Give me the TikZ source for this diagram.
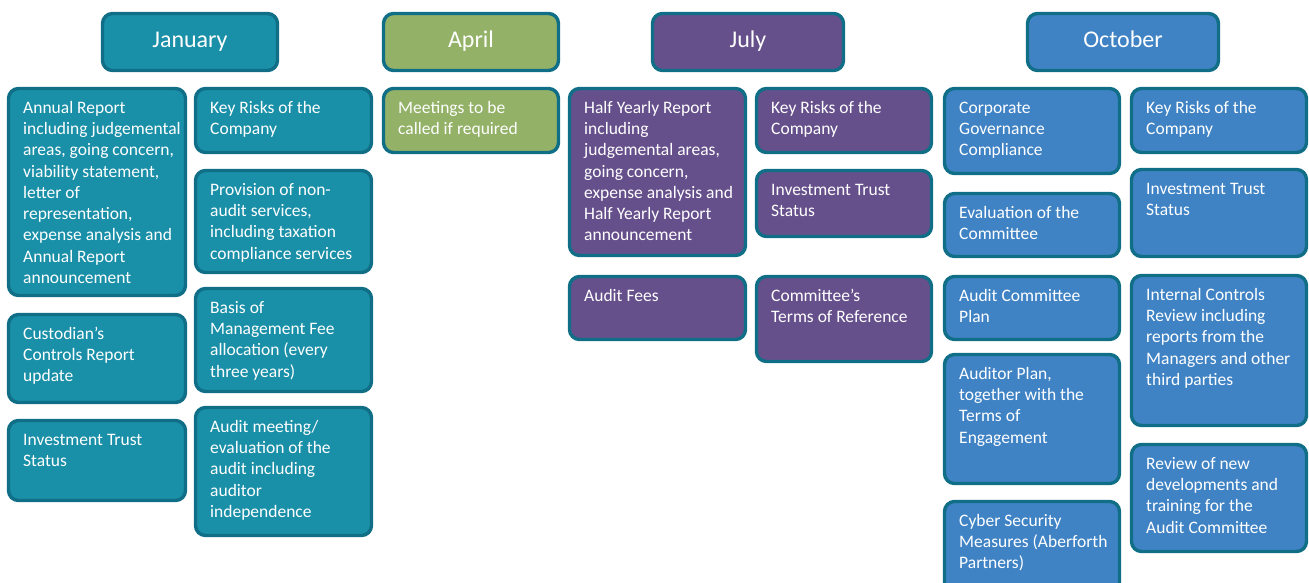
\documentclass[tikz,border=0pt]{standalone}
\usepackage{fontspec}
\setmainfont{Carlito}
\definecolor{bordc}{RGB}{16,110,135}
\definecolor{janc}{RGB}{26,143,168}
\definecolor{aprc}{RGB}{147,177,103}
\definecolor{julc}{RGB}{102,80,140}
\definecolor{octc}{RGB}{63,131,197}
\tikzset{
  boxst/.style={draw=bordc, line width=3.4pt, rounded corners=10pt, inner sep=0pt, outer sep=0pt},
  txtst/.style={text=white, inner sep=0pt, align=left, font=\fontsize{17.5}{21.3}\selectfont},
  headst/.style={text=white, inner sep=0pt, text height=15.5pt, text depth=4.5pt, font=\fontsize{24}{28}\selectfont}
}
\newcommand\calbox[7]{%
  \node[boxst, fill=#2, minimum width={(#5-#3-3)*1pt}, minimum height={(#6-#4-3)*1pt}, anchor=north west] (#1) at (#3+1.5,#4+1.5) {};
  \node[txtst, anchor=north west] (#1-t) at ([xshift=14.5pt,yshift=-9.5pt]#1.north west) {\strut #7};
}
\newcommand\calhead[7]{%
  \node[boxst, fill=#2, minimum width={(#5-#3-3)*1pt}, minimum height={(#6-#4-3)*1pt}, anchor=north west] (#1) at (#3+1.5,#4+1.5) {};
  \node[headst] (#1-t) at (#1.center) {#7};
}
\begin{document}
\begin{tikzpicture}[x=1pt,y=-1pt]
\useasboundingbox (0,0) rectangle (1309,582);
\clip (0,0) rectangle (1309,582);
% headers
\calhead{jan}{janc}{101}{12}{279}{72}{January}
\calhead{apr}{aprc}{382}{12}{560}{72}{April}
\calhead{jul}{julc}{651}{12}{845}{72}{July}
\calhead{oct}{octc}{1026}{12}{1220}{72}{October}
% January
\calbox{ja1}{janc}{7}{87}{187}{297}{Annual Report\\including judgemental\\areas, going concern,\\viability statement,\\letter of\\representation,\\expense analysis and\\Annual Report\\announcement}
\calbox{ja2}{janc}{7}{313}{187}{404}{Custodian’s\\Controls Report\\update}
\calbox{ja3}{janc}{7}{419}{187}{502}{Investment Trust\\Status}
\calbox{jb1}{janc}{194}{87}{373}{154}{Key Risks of the\\Company}
\calbox{jb2}{janc}{194}{169}{373}{274}{Provision of non-\\audit services,\\including taxation\\compliance services}
\calbox{jb3}{janc}{194}{287}{373}{393}{Basis of\\Management Fee\\allocation (every\\three years)}
\calbox{jb4}{janc}{194}{406}{373}{537}{Audit meeting/\\evaluation of the\\audit including\\auditor\\independence}
% April
\calbox{aa1}{aprc}{382}{87}{560}{154}{Meetings to be\\called if required}
% July
\calbox{la1}{julc}{568}{87}{747}{257}{Half Yearly Report\\including\\judgemental areas,\\going concern,\\expense analysis and\\Half Yearly Report\\announcement}
\calbox{la2}{julc}{568}{275}{747}{341}{Audit Fees}
\calbox{lb1}{julc}{755}{87}{933}{154}{Key Risks of the\\Company}
\calbox{lb2}{julc}{755}{169}{933}{238}{Investment Trust\\Status}
\calbox{lb3}{julc}{755}{275}{933}{363}{Committee’s\\Terms of Reference}
% October
\calbox{oa1}{octc}{943}{87}{1121}{175}{Corporate\\Governance\\Compliance}
\calbox{oa2}{octc}{943}{192}{1121}{258}{Evaluation of the\\Committee}
\calbox{oa3}{octc}{943}{275}{1121}{341}{Audit Committee\\Plan}
\calbox{oa4}{octc}{943}{353}{1121}{485}{Auditor Plan,\\together with the\\Terms of\\Engagement}
\calbox{oa5}{octc}{943}{500}{1121}{600}{Cyber Security\\Measures (Aberforth\\Partners)}
\calbox{ob1}{octc}{1130}{87}{1308}{154}{Key Risks of the\\Company}
\calbox{ob2}{octc}{1130}{168}{1308}{258}{Investment Trust\\Status}
\calbox{ob3}{octc}{1130}{274}{1308}{427}{Internal Controls\\Review including\\reports from the\\Managers and other\\third parties}
\calbox{ob4}{octc}{1130}{443}{1308}{553}{Review of new\\developments and\\training for the\\Audit Committee}
\end{tikzpicture}
\end{document}
